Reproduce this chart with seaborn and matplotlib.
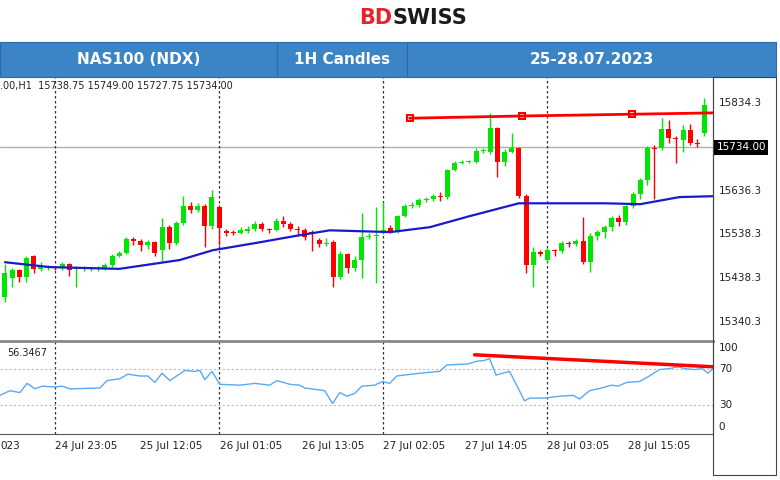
import matplotlib
matplotlib.use("Agg")
import matplotlib.pyplot as plt
import seaborn as sns
import numpy as np
import pandas as pd
from matplotlib.patches import Rectangle

sns.set_style("white")
plt.rcParams['font.family'] = ['DejaVu Sans']

opens = [15396,15439,15457,15441,15489,15460,15462,15464,15462,15471,15460,15460,15460,15460,15462,15469,15489,15496,15527,15523,
         15514,15520,15502,15554,15518,15563,15602,15593,15602,15557,15600,15545,15543,15541,15545,15550,15561,15550,15547,15568,
         15561,15550,15547,15543,15525,15516,15520,15441,15493,15462,15480,15532,15534,15543,15552,15545,15579,15602,15604,15615,
         15618,15624,15622,15683,15699,15701,15701,15726,15724,15778,15701,15724,15733,15624,15469,15498,15480,15502,15500,15518,
         15516,15523,15475,15534,15543,15554,15575,15566,15602,15629,15660,15733,15733,15776,15755,15751,15773,15744,15766]
closes = [15451,15457,15441,15484,15460,15469,15464,15462,15471,15457,15462,15462,15462,15462,15469,15489,15496,15527,15523,15514,
          15520,15496,15554,15518,15563,15602,15593,15602,15557,15622,15552,15541,15541,15547,15550,15561,15550,15547,15568,15561,
          15550,15549,15532,15539,15516,15518,15441,15493,15462,15480,15532,15534,15536,15547,15545,15579,15602,15604,15615,15618,
          15624,15622,15683,15699,15701,15703,15726,15728,15778,15701,15724,15733,15624,15469,15498,15494,15502,15500,15518,15516,
          15523,15475,15534,15543,15554,15575,15566,15602,15629,15660,15733,15731,15776,15755,15753,15773,15744,15742,15830]
highs = [15470,15462,15460,15490,15492,15475,15468,15467,15476,15474,15466,15466,15464,15466,15474,15494,15500,15532,15532,15528,
         15525,15524,15575,15560,15568,15625,15610,15608,15606,15638,15605,15550,15548,15554,15556,15568,15566,15553,15574,15580,
         15566,15556,15553,15548,15530,15530,15526,15500,15496,15490,15586,15540,15600,15611,15558,15582,15606,15610,15620,15622,
         15628,15634,15686,15704,15706,15706,15732,15732,15812,15780,15730,15766,15736,15628,15510,15502,15506,15505,15523,15523,
         15528,15577,15540,15548,15560,15580,15582,15605,15634,15665,15738,15740,15800,15795,15760,15785,15786,15752,15845]
lows = [15385,15420,15430,15430,15450,15455,15458,15457,15457,15445,15419,15456,15456,15456,15458,15465,15487,15493,15515,15500,
        15505,15490,15478,15505,15515,15560,15585,15588,15510,15550,15514,15535,15536,15538,15542,15546,15545,15542,15545,15555,
        15545,15535,15525,15500,15510,15512,15419,15438,15450,15455,15440,15528,15428,15538,15540,15542,15576,15598,15600,15612,
        15614,15614,15618,15680,15696,15698,15698,15722,15720,15667,15693,15722,15620,15451,15419,15488,15476,15490,15495,15510,
        15512,15470,15453,15525,15530,15545,15556,15560,15598,15618,15650,15618,15728,15745,15700,15724,15740,15735,15760]

ma_idx = [0,6.3,16,24.5,29.1,35.7,41.3,45.5,54,59.5,65.1,72,84,89,94.5,99.2]
ma_val = [15475,15464,15460,15480,15502,15520,15536,15547,15543,15554,15579,15608,15608,15606,15622,15624]

rsi_idx = [-0.7,0.7,2.1,3.1,4.2,5.2,7,8,9.1,13.3,14.3,16.1,17.2,18.9,20,21,22,23.1,25.2,26.6,27.3,28,29,30.1,32.9,35,37.1,38.1,
           39.9,41.3,42,44.8,45.9,46.9,47.9,49,50,51.8,52.9,53.9,54.9,58.1,60.9,61.9,64.8,66.1,67.2,67.9,68.8,70.7,72.8,73.5,75.6,
           77.7,79.6,80.5,81.9,83.6,85,85.9,87.1,88.9,90.3,91.7,93.1,94.3,95.2,96.6,97.7,98.5,99.2]
rsi_val = [41,46,44,54,48,51,50,51,48,49,57,59,64,62,62,55,65,57,68,67,68,58,67,53,52,54,52,57,
           53,52,49,46,32,44,40,43,51,52,56,54,62,65,67,74,75,78,79,81,63,67,35,38,38,
           40,41,37,46,49,52,51,55,56,62,69,70,72,70,69,70,65,70]

res_idx = [56.7, 72.4, 87.8, 99.2]
res_val = [15800, 15805, 15809, 15812]
rsi_tr_idx = [65.8, 99.2]
rsi_tr_val = [85, 72]

price_ticks = [15834.3, 15636.3, 15538.3, 15438.3, 15340.3]
rsi_ticks = [100, 70, 30, 0]
rsi_tick_pos = [92, 70, 30, 7]
vline_idx = [7.0, 30.0, 52.9, 75.9]
time_idx = [7.0, 18.9, 30.1, 41.6, 52.9, 64.4, 75.9, 87.3]
time_labels = ["24 Jul 23:05", "25 Jul 12:05", "26 Jul 01:05", "26 Jul 13:05",
               "27 Jul 02:05", "27 Jul 14:05", "28 Jul 03:05", "28 Jul 15:05"]
current_price = 15734.0

W, H = 780, 480
fig = plt.figure(figsize=(7.8, 4.8), dpi=100)
def fx(px): return px / W
def fy(py): return 1 - py / H

ax = fig.add_axes([0, fy(338), fx(713), fy(77) - fy(338)])
ax2 = fig.add_axes([0, fy(434), fx(713), fy(341) - fy(434)])
XL = (-0.7, 99.2)

GREEN, RED = "#00e600", "#ff0000"
n = len(opens)
for i in range(n):
    o, c = opens[i], closes[i]
    col = GREEN if c >= o else RED
    ax.vlines(i, lows[i], highs[i], color=col, lw=1, zorder=2)
    lo, hi = min(o, c), max(o, c)
    if hi - lo < 2:
        lo -= 1; hi += 1
    ax.add_patch(Rectangle((i - 0.35, lo), 0.7, hi - lo, color=col, zorder=3, lw=0))

sns.lineplot(x=ma_idx, y=ma_val, ax=ax, color="#1a1acc", lw=1.6, zorder=4)
sns.lineplot(x=res_idx, y=res_val, ax=ax, color=RED, lw=2, zorder=5)
ax.plot(res_idx[:3], res_val[:3], 's', ms=4, mfc="none", mec=RED, mew=1.5, zorder=6)
ax.axhline(current_price, color="#a9b0bb", lw=1, zorder=1)
for v in vline_idx:
    ax.axvline(v, color="#333333", lw=0.9, ls=(0, (2, 2)), zorder=1)
    ax2.axvline(v, color="#333333", lw=0.9, ls=(0, (2, 2)), zorder=1)

ax.set_xlim(XL)
ax.set_ylim(15304, 15893)
ax.set_xticks([]); ax.set_yticks([])
for s in ["left", "top", "bottom"]:
    ax.spines[s].set_visible(False)
ax.spines["right"].set_color("#555555")
for p in price_ticks:
    ax.text(1.008, p, f"{p:.2f}"[:-1], transform=ax.get_yaxis_transform(), fontsize=7.5,
            va="center", ha="left", color="#222222")
ax.text(1.005, current_price, "15734.00", transform=ax.get_yaxis_transform(), fontsize=7.5,
        va="center", ha="left", color="white", bbox=dict(fc="black", ec="none", pad=1.5))
ax.text(0.0, 0.985, ".00,H1  15738.75 15749.00 15727.75 15734.00", transform=ax.transAxes,
        fontsize=7, va="top", ha="left", color="#222222")

sns.lineplot(x=rsi_idx, y=rsi_val, ax=ax2, color="#5aa9f5", lw=1, zorder=3)
sns.lineplot(x=rsi_tr_idx, y=rsi_tr_val, ax=ax2, color=RED, lw=2.5, zorder=4)
for lv in [70, 30]:
    ax2.axhline(lv, color="#bbbbbb", lw=0.8, ls=(0, (2, 2)), zorder=1)
ax2.set_xlim(XL)
ax2.set_ylim(-1, 100)
ax2.set_xticks([]); ax2.set_yticks([])
ax2.spines["left"].set_visible(False)
ax2.spines["right"].set_color("#555555")
ax2.spines["top"].set_color("#888888"); ax2.spines["top"].set_linewidth(2)
ax2.spines["bottom"].set_color("#555555")
for r, pos in zip(rsi_ticks, rsi_tick_pos):
    ax2.text(1.008, pos, str(r), transform=ax2.get_yaxis_transform(), fontsize=7.5,
             va="center", ha="left", color="#222222")
ax2.text(0.01, 0.93, "56.3467", transform=ax2.transAxes, fontsize=7, va="top", color="#222222")
for t, lab in zip(time_idx, time_labels):
    ax2.text(t, -0.07, lab, transform=ax2.get_xaxis_transform(), fontsize=7.5,
             va="top", ha="left", color="#222222")
ax2.text(-0.7, -0.07, "023", transform=ax2.get_xaxis_transform(), fontsize=7.5,
         va="top", ha="left", color="#222222")

BLUE = "#3b84c6"
for x0, x1, lab in [(0, 277, "NAS100 (NDX)"), (277, 407, "1H Candles"), (407, 776, "25-28.07.2023")]:
    fig.patches.append(Rectangle((fx(x0), fy(77)), fx(x1 - x0), fy(42) - fy(77), transform=fig.transFigure,
                                 fc=BLUE, ec="#2a6aa8", lw=0.8))
    fig.text(fx((x0 + x1) / 2), fy(60), lab, ha="center", va="center", color="white",
             fontsize=11, fontweight="bold", family="Liberation Sans Narrow")
fig.text(fx(392), fy(18), "BD", ha="right", va="center", color="#e3262b", fontsize=15, fontweight="bold")
fig.text(fx(392), fy(18), "SWISS", ha="left", va="center", color="#1a1a1a", fontsize=15, fontweight="bold")
fig.patches.append(Rectangle((fx(713), fy(475)), fx(63), fy(77) - fy(475), transform=fig.transFigure,
                             fc="none", ec="#444444", lw=0.8))

fig.savefig("out.png", dpi=100)
